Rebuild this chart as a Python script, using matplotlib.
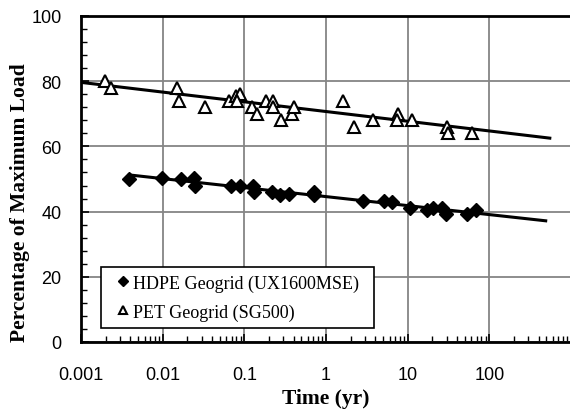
import numpy as np
import matplotlib.pyplot as plt
from matplotlib.ticker import LogLocator, MultipleLocator, FixedFormatter, FixedLocator

# HDPE Geogrid (UX1600MSE)
hdpe_t = [0.0039, 0.0097, 0.0167, 0.0244, 0.025, 0.0686, 0.088, 0.126, 0.13,
          0.216, 0.273, 0.35, 0.72, 0.72, 2.85, 5.1, 6.35, 10.6, 17.3, 20.2,
          26.7, 29.4, 52.6, 68.4]
hdpe_v = [50.0, 50.2, 50.0, 50.2, 48.0, 48.0, 48.0, 48.0, 46.0,
          46.0, 45.0, 45.4, 46.0, 45.0, 43.3, 43.3, 43.0, 41.0, 40.6, 41.0,
          41.0, 39.3, 39.3, 40.6]

# PET Geogrid (SG500)
pet_t = [0.00197, 0.0023, 0.0148, 0.0157, 0.0333, 0.065, 0.080, 0.088, 0.082,
         0.125, 0.144, 0.184, 0.226, 0.226, 0.28, 0.38, 0.41, 1.63, 2.2,
         3.75, 7.66, 7.4, 11.3, 29.9, 31.0, 60.5]
pet_v = [80.0, 78.0, 78.0, 74.0, 72.0, 74.0, 75.5, 76.0, 74.0,
         72.0, 70.0, 74.0, 74.0, 72.0, 68.0, 70.0, 72.0, 74.0, 66.0,
         68.0, 70.0, 68.0, 68.0, 66.0, 64.0, 64.0]

# log trend lines: value = a + b*log10(t), over [t_start, t_end]
hdpe_fit = (44.6, -2.76)
hdpe_fit_range = [0.0039, 490]
pet_fit = (70.7, -2.98)
pet_fit_range = [0.001, 550]

FW, FH = 570, 410
fig = plt.figure(figsize=(FW / 100, FH / 100), dpi=100)
ax = fig.add_axes([81 / FW, 1 - 343 / FH, 490 / FW, 326 / FH])

serif = 'Liberation Serif'
sans = 'Liberation Sans'

def trend(fit, rng):
    tt = np.logspace(np.log10(rng[0]), np.log10(rng[1]), 200)
    return tt, fit[0] + fit[1] * np.log10(tt)

tt, vv = trend(hdpe_fit, hdpe_fit_range)
ax.plot(tt, vv, color='black', lw=2.2, zorder=3)
tt, vv = trend(pet_fit, pet_fit_range)
ax.plot(tt, vv, color='black', lw=2.2, zorder=3)

ax.plot(hdpe_t, hdpe_v, 'D', color='black', ms=7.5, zorder=4,
        label='HDPE Geogrid (UX1600MSE)')
ax.plot(pet_t, pet_v, '^', mfc='white', mec='black', mew=1.5, ms=8.5, zorder=4,
        label='PET Geogrid (SG500)')

ax.set_xscale('log')
ax.set_xlim(0.001, 1000)
ax.set_ylim(0, 100)

ax.xaxis.set_major_locator(FixedLocator([0.001, 0.01, 0.1, 1, 10, 100]))
ax.xaxis.set_major_formatter(FixedFormatter(['0.001', '0.01', '0.1', '1', '10', '100']))
ax.xaxis.set_minor_locator(LogLocator(base=10, subs=np.arange(2, 10), numticks=20))
ax.yaxis.set_major_locator(MultipleLocator(20))
ax.yaxis.set_minor_locator(MultipleLocator(4))

ax.grid(True, which='major', color='#858585', lw=1.3)
ax.set_axisbelow(True)
ax.tick_params(which='both', direction='in', top=False, right=False)
ax.tick_params(which='major', length=6, width=1.2, labelsize=13)
ax.tick_params(which='minor', length=4, width=1)
ax.tick_params(axis='x', which='major', pad=17)
ax.tick_params(axis='y', which='major', pad=14)
for lab in ax.get_xticklabels() + ax.get_yticklabels():
    lab.set_family(sans)

for s in ['left', 'bottom', 'top']:
    ax.spines[s].set_linewidth(2)
ax.spines['right'].set_visible(False)

ax.set_xlabel('Time (yr)', family=serif, fontweight='bold', fontsize=15.5, labelpad=4)
ax.set_ylabel('Percentage of Maximum Load', family=serif, fontweight='bold',
              fontsize=15.5, labelpad=1, y=0.43)

leg = ax.legend(loc='lower left', bbox_to_anchor=(20 / 490, 14 / 326, 273 / 490, 66 / 326),
                mode='expand', prop={'family': serif, 'size': 13}, frameon=True,
                fancybox=False, edgecolor='black', framealpha=1, markerscale=0.65,
                handlelength=1.6, handletextpad=-0.25, borderpad=0.4,
                labelspacing=0.65, borderaxespad=0)
leg.get_frame().set_linewidth(1.2)

fig.savefig('out.png', dpi=100)
